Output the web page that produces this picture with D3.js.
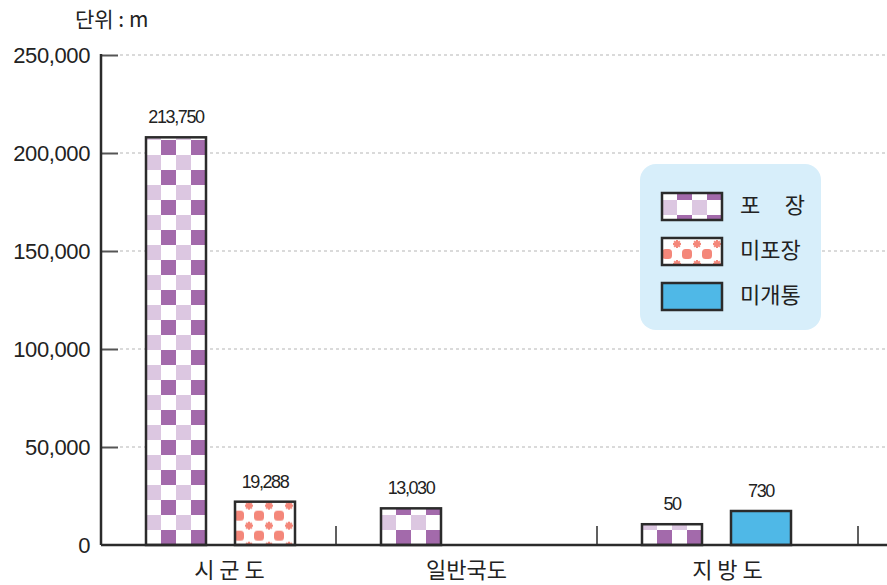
<!DOCTYPE html>
<html>
<head>
<meta charset="utf-8">
<script src="https://cdn.jsdelivr.net/npm/d3@7"></script>
<style>
  html, body { margin: 0; padding: 0; background: #fff; }
  svg { display: block; }
  .num { font-family: "Liberation Sans", Arial, sans-serif; }
  .kr { font-family: "Noto Sans CJK KR", "Noto Sans", sans-serif; }
</style>
</head>
<body>
<svg id="chart" width="887" height="585"></svg>
<script>
// ---------- data ----------
const categories = ["시 군 도", "일반국도", "지 방 도"];
const seriesNames = ["포 장", "미포장", "미개통"];
// labelled values (m)
const pavedValues    = [213750, 13030, 50];
const unpavedValues  = [19288, null, null];
const unopenedValues = [null, null, 730];
// bar heights as drawn in the picture (m on the axis; the small bars are exaggerated)
const pavedDrawn    = [208000, 18700, 10600];
const unpavedDrawn  = [22100, null, null];
const unopenedDrawn = [null, null, 17350];
const yTicks = [0, 50000, 100000, 150000, 200000, 250000];
const unitLabel = "단위 : m";

// ---------- layout ----------
const W = 887, H = 585;
const axisX = 101, baseY = 545, topY = 55;
const barW = 60, barGap = 29, barOffset = 45;
const colors = { dark: "#a36aab", light: "#dcc7e1", salmon: "#f4877a", blue: "#4fb8e7", legendBg: "#d7eefa", ink: "#2b2b2b" };

const svg = d3.select("#chart");
const defs = svg.append("defs");

const y = d3.scaleLinear().domain([0, 250000]).range([baseY, topY]);
const x = d3.scaleBand().domain(categories).range([75, 858]);

// ---------- patterns ----------
function checker(id, ox, oy) {
  const p = defs.append("pattern").attr("id", id).attr("patternUnits", "userSpaceOnUse")
    .attr("x", ox).attr("y", oy).attr("width", 30).attr("height", 30);
  p.append("rect").attr("width", 30).attr("height", 30).attr("fill", "#fff");
  p.append("rect").attr("x", 0).attr("y", 0).attr("width", 15).attr("height", 15).attr("fill", colors.light);
  p.append("rect").attr("x", 15).attr("y", 15).attr("width", 15).attr("height", 15).attr("fill", colors.dark);
  return `url(#${id})`;
}
function dots(id, ox, oy) {
  const p = defs.append("pattern").attr("id", id).attr("patternUnits", "userSpaceOnUse")
    .attr("x", ox).attr("y", oy).attr("width", 20).attr("height", 20);
  p.append("rect").attr("width", 20).attr("height", 20).attr("fill", "#fff");
  [[0,0],[20,0],[0,20],[20,20]].forEach(([cx, cy]) => {
    p.append("rect").attr("x", cx - 5).attr("y", cy - 5).attr("width", 10).attr("height", 10)
      .attr("rx", 3.5).attr("fill", colors.salmon);
  });
  // small sprocket star
  p.append("circle").attr("cx", 10).attr("cy", 10).attr("r", 2.6).attr("fill", colors.salmon);
  p.append("rect").attr("x", 9).attr("y", 6).attr("width", 2).attr("height", 8).attr("fill", colors.salmon);
  p.append("rect").attr("x", 6).attr("y", 9).attr("width", 8).attr("height", 2).attr("fill", colors.salmon);
  p.append("rect").attr("x", 9).attr("y", 6).attr("width", 2).attr("height", 8).attr("fill", colors.salmon)
    .attr("transform", "rotate(45 10 10)");
  p.append("rect").attr("x", 6).attr("y", 9).attr("width", 8).attr("height", 2).attr("fill", colors.salmon)
    .attr("transform", "rotate(45 10 10)");
  return `url(#${id})`;
}

// ---------- grid + y axis ----------
const gGrid = svg.append("g");
gGrid.selectAll("line.grid").data(yTicks.filter(d => d > 0)).join("line")
  .attr("x1", axisX + 19).attr("x2", W)
  .attr("y1", d => y(d)).attr("y2", d => y(d))
  .attr("stroke", "#b5b5b5").attr("stroke-width", 1).attr("stroke-dasharray", "3,3");

const yAxis = d3.axisRight(y).tickValues(yTicks).tickSize(17).tickFormat("");
const gy = svg.append("g").attr("transform", `translate(${axisX},0)`).call(yAxis);
gy.select(".domain").remove();
gy.selectAll(".tick line").attr("stroke", "#555").attr("stroke-width", 2)
  .filter(d => d === 0).remove();
svg.append("line").attr("x1", axisX).attr("x2", axisX).attr("y1", topY - 1).attr("y2", baseY)
  .attr("stroke", colors.ink).attr("stroke-width", 2.5);

svg.append("g").selectAll("text").data(yTicks).join("text")
  .attr("class", "num")
  .attr("x", 90).attr("y", d => y(d)).attr("dy", "0.36em")
  .attr("text-anchor", "end").attr("font-size", 22).attr("letter-spacing", -0.4)
  .attr("fill", "#222")
  .text(d => d3.format(",")(d));

svg.append("text").attr("class", "kr").attr("x", 75).attr("y", 27)
  .attr("font-size", 21).attr("fill", "#222").text(unitLabel);

// ---------- bars ----------
const rows = categories.map((c, i) => {
  const items = [
    { s: 0, v: pavedValues[i], h: pavedDrawn[i] },
    { s: 1, v: unpavedValues[i], h: unpavedDrawn[i] },
    { s: 2, v: unopenedValues[i], h: unopenedDrawn[i] }
  ].filter(d => d.v != null);
  const start = Math.max(x(c), axisX);
  return items.map((d, k) => ({ ...d, cat: c, ci: i, x0: start + barOffset + k * (barW + barGap) }));
}).flat();

const gBars = svg.append("g");
rows.forEach((d, idx) => {
  let fill;
  if (d.s === 0) fill = checker("chk" + idx, d.x0, baseY - 30);
  else if (d.s === 1) fill = dots("dot" + idx, d.x0 + 4, y(d.h) - 6);
  else fill = colors.blue;
  gBars.append("rect")
    .attr("x", d.x0).attr("y", y(d.h))
    .attr("width", barW).attr("height", baseY - y(d.h))
    .attr("fill", fill).attr("stroke", colors.ink).attr("stroke-width", 2.5);
  gBars.append("text").attr("class", "num")
    .attr("x", d.x0 + barW / 2).attr("y", y(d.h) - 14)
    .attr("text-anchor", "middle").attr("font-size", 18).attr("letter-spacing", -1.4)
    .attr("fill", "#222")
    .text(d3.format(",")(d.v));
});

// ---------- x axis ----------
svg.append("line").attr("x1", axisX).attr("x2", W).attr("y1", baseY).attr("y2", baseY)
  .attr("stroke", colors.ink).attr("stroke-width", 2.5);
svg.append("g").selectAll("line").data(categories).join("line")
  .attr("x1", c => x(c) + x.bandwidth()).attr("x2", c => x(c) + x.bandwidth())
  .attr("y1", baseY - 19).attr("y2", baseY)
  .attr("stroke", colors.ink).attr("stroke-width", 1.5);
svg.append("g").selectAll("text").data(categories).join("text")
  .attr("class", "kr")
  .attr("x", (c, i) => {
    const s = Math.max(x(c), axisX), e = x(c) + x.bandwidth();
    return i === 0 ? (s + e) / 2 + 11 : (s + e) / 2;
  })
  .attr("y", 578).attr("text-anchor", "middle").attr("font-size", 22).attr("fill", "#222")
  .text(c => c);

// ---------- legend ----------
const lg = svg.append("g");
lg.append("rect").attr("x", 640).attr("y", 164).attr("width", 181).attr("height", 166)
  .attr("rx", 16).attr("fill", colors.legendBg);
const legendFills = [checker("lgChk", 662, 200), dots("lgDot", 667, 234), colors.blue];
seriesNames.forEach((name, i) => {
  const yy = 193 + i * 45;
  lg.append("rect").attr("x", 662).attr("y", yy).attr("width", 60).attr("height", 27)
    .attr("fill", legendFills[i]).attr("stroke", colors.ink).attr("stroke-width", 2.5);
  const t = lg.append("text").attr("class", "kr").attr("x", 740).attr("y", yy + 20)
    .attr("font-size", 22).attr("fill", "#222").text(name);
  if (i === 0) t.attr("textLength", 65).attr("lengthAdjust", "spacing");
});
</script>
</body>
</html>
